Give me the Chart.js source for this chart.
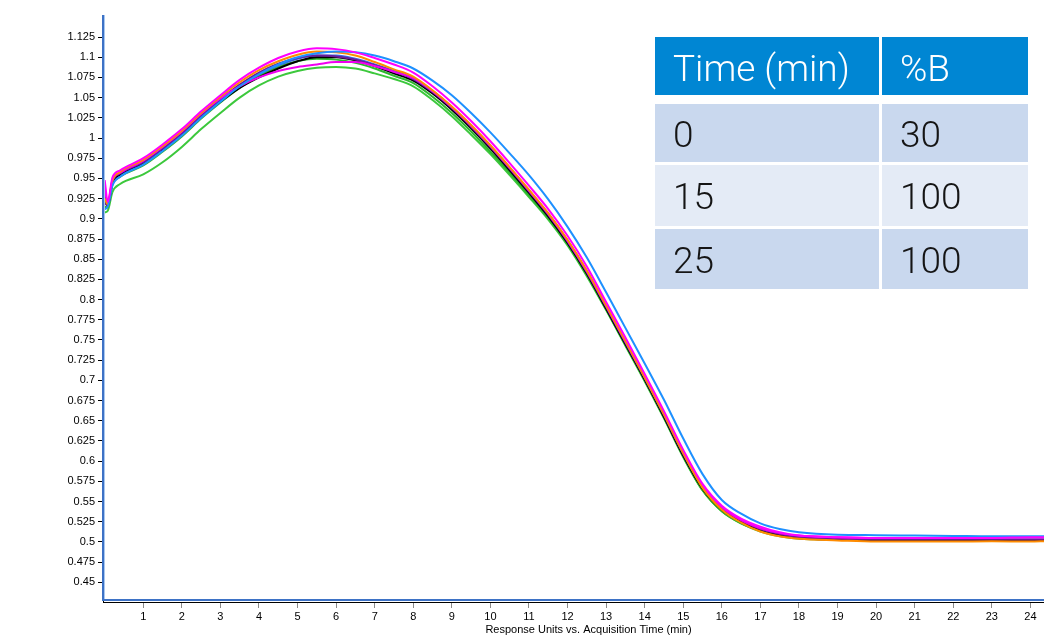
<!DOCTYPE html>
<html>
<head>
<meta charset="utf-8">
<script src="https://cdn.jsdelivr.net/npm/chart.js@4.4.1/dist/chart.umd.min.js"></script>
<style>
html,body{margin:0;padding:0;background:#fff;}
#wrap{position:relative;width:1044px;height:642px;overflow:hidden;}
#c{position:absolute;left:0;top:0;}
#grad{position:absolute;left:655px;top:37px;display:grid;grid-template-columns:224px 146px;grid-template-rows:58px 3px 58px 61px 60px;gap:3px;font-family:Roboto,'Open Sans',sans-serif;font-weight:300;font-size:37px;line-height:1;}
#grad .c{display:flex;align-items:center;padding-left:18px;box-sizing:border-box;white-space:nowrap;}
#grad .h{background:#0086D3;color:#fff;padding-top:5px;}
#grad .r1{background:#C9D8EE;color:#151515;padding-top:2px;}
#grad .r2{background:#E4EBF6;color:#151515;padding-top:2px;}
</style>
</head>
<body>
<div id="wrap">
<canvas id="c" width="1044" height="642"></canvas>
<div id="grad"></div>
</div>
<script>
// ---- data ----
const times = [0, 0.08, 0.2, 0.4, 1, 1.5, 2, 2.5, 3, 3.5, 4, 4.5, 5, 5.5, 6, 6.5, 7, 7.5, 8, 8.5, 9, 9.5, 10, 10.5, 11, 11.5, 12, 12.5, 13, 13.5, 14, 14.5, 15, 15.5, 16, 16.5, 17, 17.5, 18, 19, 20, 21, 22, 23, 24, 24.4];

const runMagentaA = [0.948, 0.921, 0.951, 0.960, 0.975, 0.992, 1.011, 1.033, 1.053, 1.072, 1.087, 1.099, 1.107, 1.111, 1.110, 1.106, 1.099, 1.091, 1.081, 1.064, 1.044, 1.021, 0.996, 0.969, 0.941, 0.912, 0.879, 0.841, 0.797, 0.753, 0.708, 0.662, 0.614, 0.572, 0.545, 0.529, 0.519, 0.512, 0.508, 0.506, 0.505, 0.505, 0.505, 0.505, 0.506, 0.506];
const runBlue = [0.912, 0.915, 0.941, 0.952, 0.967, 0.984, 1.003, 1.025, 1.045, 1.064, 1.079, 1.091, 1.100, 1.105, 1.107, 1.106, 1.102, 1.095, 1.086, 1.071, 1.053, 1.031, 1.007, 0.981, 0.954, 0.924, 0.890, 0.852, 0.809, 0.765, 0.721, 0.676, 0.628, 0.584, 0.552, 0.535, 0.523, 0.516, 0.512, 0.509, 0.5085, 0.508, 0.5075, 0.507, 0.507, 0.507];
const runOrange = [0.925, 0.918, 0.947, 0.958, 0.973, 0.990, 1.009, 1.031, 1.051, 1.069, 1.084, 1.095, 1.103, 1.107, 1.106, 1.102, 1.094, 1.085, 1.076, 1.059, 1.039, 1.016, 0.991, 0.964, 0.936, 0.907, 0.874, 0.836, 0.793, 0.749, 0.704, 0.658, 0.610, 0.567, 0.540, 0.524, 0.513, 0.507, 0.504, 0.502, 0.5005, 0.5005, 0.5005, 0.501, 0.5005, 0.501];
const runMagentaB = [0.935, 0.920, 0.948, 0.957, 0.972, 0.989, 1.008, 1.030, 1.049, 1.064, 1.075, 1.083, 1.088, 1.091, 1.094, 1.094, 1.089, 1.082, 1.074, 1.058, 1.038, 1.015, 0.990, 0.963, 0.935, 0.906, 0.873, 0.835, 0.792, 0.748, 0.704, 0.658, 0.610, 0.569, 0.543, 0.527, 0.517, 0.511, 0.508, 0.506, 0.505, 0.505, 0.505, 0.506, 0.506, 0.506];
const runPurple = [0.920, 0.916, 0.946, 0.956, 0.970, 0.987, 1.006, 1.028, 1.048, 1.066, 1.081, 1.092, 1.099, 1.102, 1.101, 1.097, 1.090, 1.082, 1.073, 1.057, 1.037, 1.014, 0.989, 0.962, 0.934, 0.905, 0.872, 0.834, 0.791, 0.747, 0.703, 0.657, 0.609, 0.568, 0.542, 0.527, 0.516, 0.510, 0.506, 0.504, 0.503, 0.503, 0.503, 0.503, 0.503, 0.503];
const runBlack = [0.930, 0.917, 0.945, 0.955, 0.969, 0.985, 1.004, 1.026, 1.045, 1.062, 1.075, 1.086, 1.095, 1.100, 1.100, 1.096, 1.089, 1.080, 1.071, 1.055, 1.035, 1.012, 0.987, 0.960, 0.932, 0.903, 0.870, 0.832, 0.789, 0.745, 0.701, 0.655, 0.607, 0.566, 0.540, 0.525, 0.515, 0.509, 0.505, 0.503, 0.502, 0.502, 0.502, 0.502, 0.502, 0.502];
const runRoyal = [0.922, 0.916, 0.944, 0.954, 0.968, 0.985, 1.004, 1.026, 1.046, 1.064, 1.079, 1.090, 1.098, 1.102, 1.102, 1.098, 1.091, 1.083, 1.074, 1.058, 1.038, 1.015, 0.990, 0.963, 0.935, 0.906, 0.873, 0.835, 0.792, 0.748, 0.704, 0.658, 0.610, 0.568, 0.542, 0.526, 0.516, 0.510, 0.506, 0.504, 0.503, 0.503, 0.503, 0.503, 0.503, 0.503];
const runGreenDark = [0.915, 0.914, 0.942, 0.952, 0.966, 0.983, 1.002, 1.024, 1.044, 1.062, 1.077, 1.088, 1.095, 1.098, 1.097, 1.093, 1.086, 1.077, 1.068, 1.051, 1.031, 1.008, 0.983, 0.957, 0.929, 0.901, 0.869, 0.831, 0.788, 0.744, 0.700, 0.654, 0.606, 0.564, 0.538, 0.523, 0.514, 0.508, 0.505, 0.503, 0.502, 0.502, 0.502, 0.502, 0.502, 0.502];
const runGreen = [0.908, 0.910, 0.933, 0.943, 0.955, 0.970, 0.989, 1.011, 1.031, 1.050, 1.065, 1.076, 1.083, 1.087, 1.088, 1.086, 1.080, 1.073, 1.064, 1.047, 1.027, 1.004, 0.980, 0.954, 0.927, 0.899, 0.867, 0.829, 0.787, 0.743, 0.699, 0.653, 0.605, 0.564, 0.538, 0.523, 0.513, 0.507, 0.504, 0.503, 0.502, 0.502, 0.502, 0.502, 0.502, 0.502];

const yTickValues = [0.45, 0.475, 0.5, 0.525, 0.55, 0.575, 0.6, 0.625, 0.65, 0.675, 0.7, 0.725, 0.75, 0.775, 0.8, 0.825, 0.85, 0.875, 0.9, 0.925, 0.95, 0.975, 1, 1.025, 1.05, 1.075, 1.1, 1.125];
const xTickValues = [1, 2, 3, 4, 5, 6, 7, 8, 9, 10, 11, 12, 13, 14, 15, 16, 17, 18, 19, 20, 21, 22, 23, 24];
const xAxisTitle = 'Response Units vs. Acquisition Time (min)';

const tableHeaders = ['Time (min)', '%B'];
const gradientTime = [0, 15, 25];
const gradientB = [30, 100, 100];

// ---- gradient table overlay ----
const grad = document.getElementById('grad');
function cell(text, cls) { const d = document.createElement('div'); d.className = 'c ' + cls; d.textContent = text; grad.appendChild(d); }
tableHeaders.forEach(h => cell(h, 'h'));
cell('', ''); cell('', '');
gradientTime.forEach((t, i) => { const cls = i % 2 === 0 ? 'r1' : 'r2'; cell(String(t), cls); cell(String(gradientB[i]), cls); });

// ---- chart ----
const runs = [
  [runMagentaA, '#FF00FF'],
  [runBlue, '#1E90FF'],
  [runOrange, '#FF8C00'],
  [runMagentaB, '#F000F0'],
  [runPurple, '#6A1B9A'],
  [runBlack, '#000000'],
  [runRoyal, '#3A6BE0'],
  [runGreenDark, '#2DB82D'],
  [runGreen, '#3CC83C']
];
const datasets = runs.map(([vals, col]) => ({
  data: times.map((t, i) => ({ x: t, y: vals[i] })),
  borderColor: col,
  borderWidth: 2,
  pointRadius: 0,
  cubicInterpolationMode: 'monotone',
  fill: false
}));

const tickFont = { family: "'Liberation Sans Narrow', 'Arial Narrow', 'Liberation Sans', Arial, sans-serif", size: 11 };

const frame = {
  id: 'frame',
  afterDatasetsDraw(chart) {
    const { ctx, chartArea: a } = chart;
    ctx.save();
    ctx.fillStyle = '#3D72C6';
    ctx.fillRect(a.left - 1, a.top, 2, a.bottom - a.top - 1);
    ctx.fillStyle = '#A9C8F0';
    ctx.fillRect(a.left + 1, a.top, 1, a.bottom - a.top - 3);
    ctx.fillStyle = '#3D72C6';
    ctx.fillRect(a.left - 1, a.bottom - 3, a.right - a.left + 1, 2);
    ctx.restore();
  },
  afterDraw(chart) {
    // x-axis title, centred as in the reference (slightly right of the plot centre)
    const { ctx, chartArea: a } = chart;
    ctx.save();
    ctx.font = tickFont.size + 'px ' + tickFont.family;
    ctx.fillStyle = '#000';
    ctx.textAlign = 'center';
    ctx.textBaseline = 'middle';
    ctx.fillText(xAxisTitle, (a.left + a.right) / 2 + 15, 630);
    ctx.restore();
  }
};

new Chart(document.getElementById('c'), {
  type: 'line',
  data: { datasets },
  plugins: [frame],
  options: {
    responsive: false,
    animation: false,
    events: [],
    layout: { padding: { top: 15, left: 0, right: 0, bottom: 0 } },
    plugins: { legend: { display: false }, tooltip: { enabled: false } },
    scales: {
      x: {
        type: 'linear',
        min: -0.044,
        max: 24.353,
        afterBuildTicks: s => { s.ticks = xTickValues.map(v => ({ value: v })); },
        afterFit: s => { s.height = 40; },
        grid: { drawOnChartArea: false, drawTicks: true, tickLength: 6, color: '#8a8a8a' },
        border: { display: true, color: '#000', width: 1 },
        ticks: { autoSkip: false, maxRotation: 0, padding: 2, color: '#000', font: tickFont, callback: v => String(v) },
        title: { display: false, text: xAxisTitle }
      },
      y: {
        type: 'linear',
        min: 0.42574,
        max: 1.15223,
        afterBuildTicks: s => { s.ticks = yTickValues.map(v => ({ value: v })); },
        afterFit: s => { s.width = 103; },
        grid: { drawOnChartArea: false, drawTicks: true, tickLength: 5, color: '#000' },
        border: { display: true, color: '#000', width: 1 },
        ticks: { autoSkip: false, padding: 3, color: '#000', font: tickFont, callback: v => String(v) }
      }
    }
  }
});
</script>
</body>
</html>
